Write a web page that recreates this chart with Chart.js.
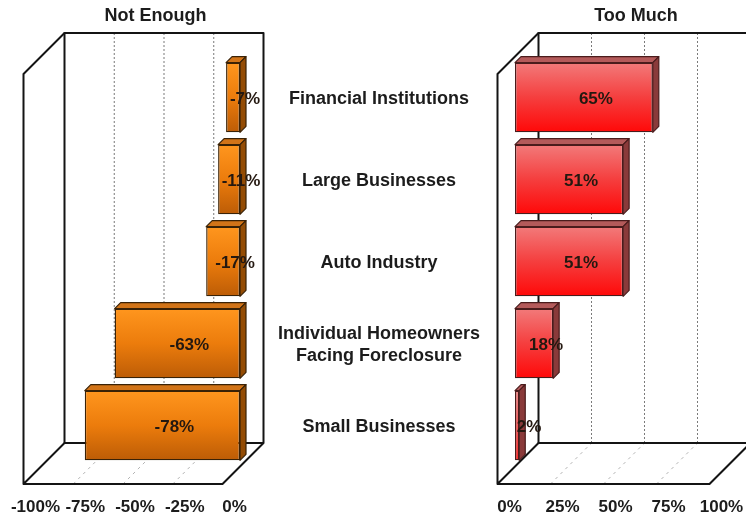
<!DOCTYPE html>
<html>
<head>
<meta charset="utf-8">
<script src="https://cdn.jsdelivr.net/npm/chart.js@4.4.1/dist/chart.umd.min.js"></script>
<style>
  html, body { margin: 0; padding: 0; background: #fff; }
  #wrap { position: relative; width: 746px; height: 517px; }
  #wrap canvas { position: absolute; left: 0; top: 0; }
</style>
</head>
<body>
<div id="wrap">
  <canvas id="notEnough" width="746" height="517"></canvas>
  <canvas id="tooMuch" width="746" height="517"></canvas>
</div>
<script>
const categories = [
  ['Financial Institutions'],
  ['Large Businesses'],
  ['Auto Industry'],
  ['Individual Homeowners', 'Facing Foreclosure'],
  ['Small Businesses']
];
const notEnoughValues = [-7, -11, -17, -63, -78];
const tooMuchValues = [65, 51, 51, 18, 2];
const notEnoughTicks = [-100, -75, -50, -25, 0];
const tooMuchTicks = [0, 25, 50, 75, 100];

const FONT = '"Liberation Sans", Arial, sans-serif';
const INK = '#1c1c1c';
const BAR_PCT = 0.85;

// depth of the box behind / in front of the plane the bars stand on
const BACK = 23.5;
const FRONT = 17.5;

function barGradient(stops, fallback) {
    return (ctx) => {
        const chart = ctx.chart;
        const y = chart.scales.y;
        if (!chart.chartArea || !y) {
            return fallback;
        }
        const c = y.getPixelForValue(ctx.dataIndex);
        const band = Math.abs(y.getPixelForValue(1) - y.getPixelForValue(0));
        const half = band * BAR_PCT / 2;
        const g = chart.ctx.createLinearGradient(0, c - half, 0, c + half);
        stops.forEach((s, i) => g.addColorStop(i / (stops.length - 1), s));
        return g;
    };
}

// walls, floor, grid and axis text of the 3d box
const frame3d = {
    id: 'frame3d',
    beforeDatasetsDraw(chart, args, o) {
        const ctx = chart.ctx;
        const a = chart.chartArea;
        const x = chart.scales.x;
        const bl = a.left + BACK, br = a.right + BACK, bt = a.top - BACK, bb = a.bottom - BACK;
        const fl = a.left - FRONT, fr = a.right - FRONT, fb = a.bottom + FRONT, ft = a.top + FRONT;

        ctx.save();
        // grid on back wall and floor
        o.ticks.slice(1, -1).forEach((v) => {
            const px = x.getPixelForValue(v);
            ctx.strokeStyle = '#7a7a7a';
            ctx.lineWidth = 1;
            ctx.setLineDash([2, 2]);
            ctx.beginPath();
            ctx.moveTo(px + BACK, bt);
            ctx.lineTo(px + BACK, bb);
            ctx.stroke();
            ctx.strokeStyle = '#b4b4b4';
            ctx.setLineDash([3, 4]);
            ctx.beginPath();
            ctx.moveTo(px - FRONT, fb);
            ctx.lineTo(px + BACK, bb);
            ctx.stroke();
        });
        ctx.setLineDash([]);

        ctx.strokeStyle = '#141414';
        ctx.lineWidth = 2;
        ctx.lineJoin = 'round';
        ctx.strokeRect(bl, bt, br - bl, bb - bt);
        ctx.beginPath();
        ctx.moveTo(bl, bt);
        ctx.lineTo(fl, ft);
        ctx.lineTo(fl, fb);
        ctx.lineTo(bl, bb);
        ctx.moveTo(fl, fb);
        ctx.lineTo(fr, fb);
        ctx.lineTo(br, bb);
        ctx.stroke();

        // axis labels along the front edge of the floor
        ctx.fillStyle = INK;
        ctx.font = 'bold 17px ' + FONT;
        ctx.textAlign = 'center';
        ctx.textBaseline = 'middle';
        o.ticks.forEach((v) => {
            const px = x.getPixelForValue(v);
            ctx.fillText(v + '%', px - FRONT + 12, fb + 23);
        });

        // title
        ctx.font = 'bold 18px ' + FONT;
        ctx.fillText(o.title, (a.left + a.right) / 2 + 15, 16);

        // category names between the two panels
        if (o.categoryX) {
            const y = chart.scales.y;
            categories.forEach((lines, i) => {
                const cy = y.getPixelForValue(i) + 2;
                lines.forEach((line, j) => {
                    ctx.fillText(line, o.categoryX, cy + (j - (lines.length - 1) / 2) * 22);
                });
            });
        }
        ctx.restore();
    }
};

// top and side faces of each bar plus its value
const bar3d = {
    id: 'bar3d',
    afterDatasetsDraw(chart, args, o) {
        const ctx = chart.ctx;
        const meta = chart.getDatasetMeta(0);
        const values = chart.data.datasets[0].data;
        const d = o.depth;
        ctx.save();
        ctx.lineWidth = 1.2;
        ctx.strokeStyle = o.edge;
        ctx.lineJoin = 'round';
        meta.data.forEach((bar, i) => {
            const p = bar.getProps(['x', 'y', 'base', 'height'], true);
            const l = Math.min(p.x, p.base), r = Math.max(p.x, p.base);
            const t = p.y - p.height / 2, b = p.y + p.height / 2;

            ctx.fillStyle = o.top;
            ctx.beginPath();
            ctx.moveTo(l, t);
            ctx.lineTo(l + d, t - d);
            ctx.lineTo(r + d, t - d);
            ctx.lineTo(r, t);
            ctx.closePath();
            ctx.fill();
            ctx.stroke();

            ctx.fillStyle = o.side;
            ctx.beginPath();
            ctx.moveTo(r, t);
            ctx.lineTo(r + d, t - d);
            ctx.lineTo(r + d, b - d);
            ctx.lineTo(r, b);
            ctx.closePath();
            ctx.fill();
            ctx.stroke();

            ctx.fillStyle = '#241810';
            ctx.font = 'bold 17px ' + FONT;
            ctx.textAlign = 'center';
            ctx.textBaseline = 'middle';
            ctx.fillText(values[i] + '%', (l + r) / 2 + 12, p.y + 2);
        });
        ctx.restore();
    }
};

function makeChart(id, cfg) {
    return new Chart(document.getElementById(id), {
        type: 'bar',
        data: {
            labels: categories.map((c) => c.join(' ')),
            datasets: [{
                data: cfg.values,
                backgroundColor: barGradient(cfg.front, cfg.front[1]),
                borderColor: cfg.edge,
                borderWidth: 1.4,
                borderSkipped: false,
                barPercentage: BAR_PCT,
                categoryPercentage: 1
            }]
        },
        options: {
            indexAxis: 'y',
            responsive: false,
            animation: false,
            events: [],
            layout: { padding: cfg.padding },
            plugins: {
                legend: { display: false },
                tooltip: { enabled: false },
                frame3d: { ticks: cfg.ticks, title: cfg.title, categoryX: cfg.categoryX },
                bar3d: { depth: 6, top: cfg.top, side: cfg.side, edge: cfg.edge }
            },
            scales: {
                x: { display: false, min: cfg.ticks[0], max: cfg.ticks[cfg.ticks.length - 1] },
                y: { display: false }
            }
        },
        plugins: [frame3d, bar3d]
    });
}

makeChart('notEnough', {
    values: notEnoughValues,
    ticks: notEnoughTicks,
    title: 'Not Enough',
    categoryX: 379,
    padding: { left: 41, right: 506, top: 56.5, bottom: 50.5 },
    front: ['#ff961e', '#ec7c0c', '#bc5c06'],
    top: '#d27418',
    side: '#944c04',
    edge: '#3a2206'
});

makeChart('tooMuch', {
    values: tooMuchValues,
    ticks: tooMuchTicks,
    title: 'Too Much',
    padding: { left: 515, right: 19, top: 56.5, bottom: 50.5 },
    front: ['#f27a7a', '#f53e3e', '#ff0808'],
    top: '#b45a5a',
    side: '#8a3a3a',
    edge: '#4a1c1c'
});
</script>
</body>
</html>
